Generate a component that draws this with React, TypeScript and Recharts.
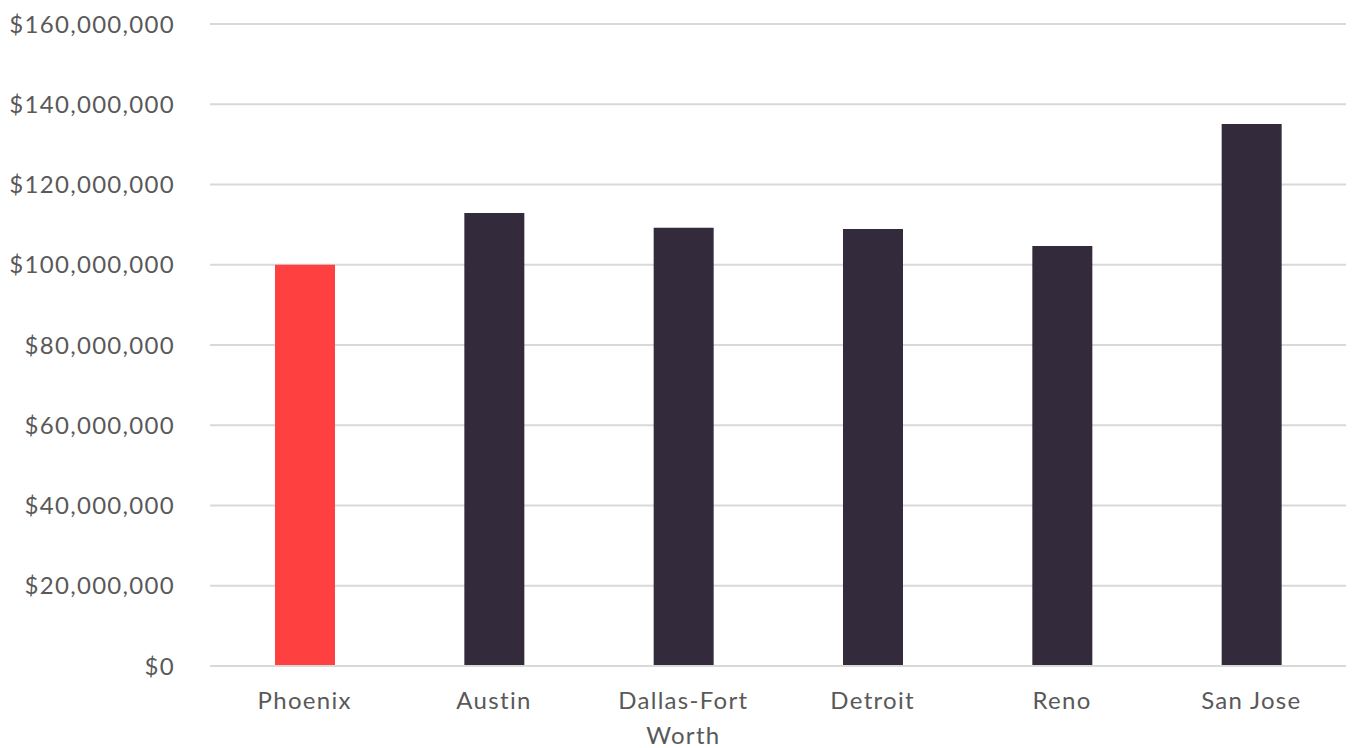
import React from "react";
import { BarChart, Bar, XAxis, YAxis, CartesianGrid, Cell } from "recharts";

const cities = ["Phoenix", "Austin", "Dallas-Fort Worth", "Detroit", "Reno", "San Jose"];
const values = [100000000, 112900000, 109200000, 108900000, 104700000, 135100000];
const barColors = ["#FF4040", "#332A3C", "#332A3C", "#332A3C", "#332A3C", "#332A3C"];
const yTicks = [0, 20000000, 40000000, 60000000, 80000000, 100000000, 120000000, 140000000, 160000000];

const data = cities.map((name, i) => ({ name, value: values[i] }));

const FONT = "Lato, 'Noto Sans', sans-serif";
const LABEL = "#595959";

const fmt = (v: number) => "$" + v.toLocaleString("en-US");

// greedy word wrap, ~12 chars per line (category slot is narrow)
function wrap(label: string, max = 12): string[] {
  const lines: string[] = [];
  let cur = "";
  for (const w of label.split(" ")) {
    if (cur && (cur + " " + w).length > max) {
      lines.push(cur);
      cur = w;
    } else {
      cur = cur ? cur + " " + w : w;
    }
  }
  if (cur) lines.push(cur);
  return lines;
}

function CityTick(props: any) {
  const { x, y, payload } = props;
  const lines = wrap(String(payload.value));
  return (
    <text
      x={x}
      y={y}
      textAnchor="middle"
      fontSize={24}
      letterSpacing={1.3}
      fontFamily={FONT}
      fill={LABEL}
    >
      {lines.map((l, i) => (
        <tspan key={i} x={x} dy={i === 0 ? "0.71em" : 35}>
          {l}
        </tspan>
      ))}
    </text>
  );
}

export default function App() {
  return (
    <div style={{ position: "absolute", left: 0, top: 0, background: "#fff" }}>
      <BarChart
        width={1353}
        height={748}
        data={data}
        margin={{ top: 24, right: 7, left: 0, bottom: 52 }}
        barSize={60}
      >
        <CartesianGrid vertical={false} stroke="#D9D9D9" strokeWidth={2} />
        <XAxis
          dataKey="name"
          axisLine={{ stroke: "#D9D9D9", strokeWidth: 2 }}
          tickLine={false}
          interval={0}
          tick={<CityTick />}
          tickMargin={20}
        />
        <YAxis
          domain={[0, 160000000]}
          ticks={yTicks}
          tickFormatter={fmt}
          axisLine={false}
          tickLine={false}
          width={210}
          tickMargin={29}
          tick={{ fontSize: 24, letterSpacing: 1.3, fontFamily: FONT, fill: LABEL }}
        />
        <Bar dataKey="value" isAnimationActive={false}>
          {data.map((d, i) => (
            <Cell key={d.name} fill={barColors[i]} />
          ))}
        </Bar>
      </BarChart>
    </div>
  );
}
